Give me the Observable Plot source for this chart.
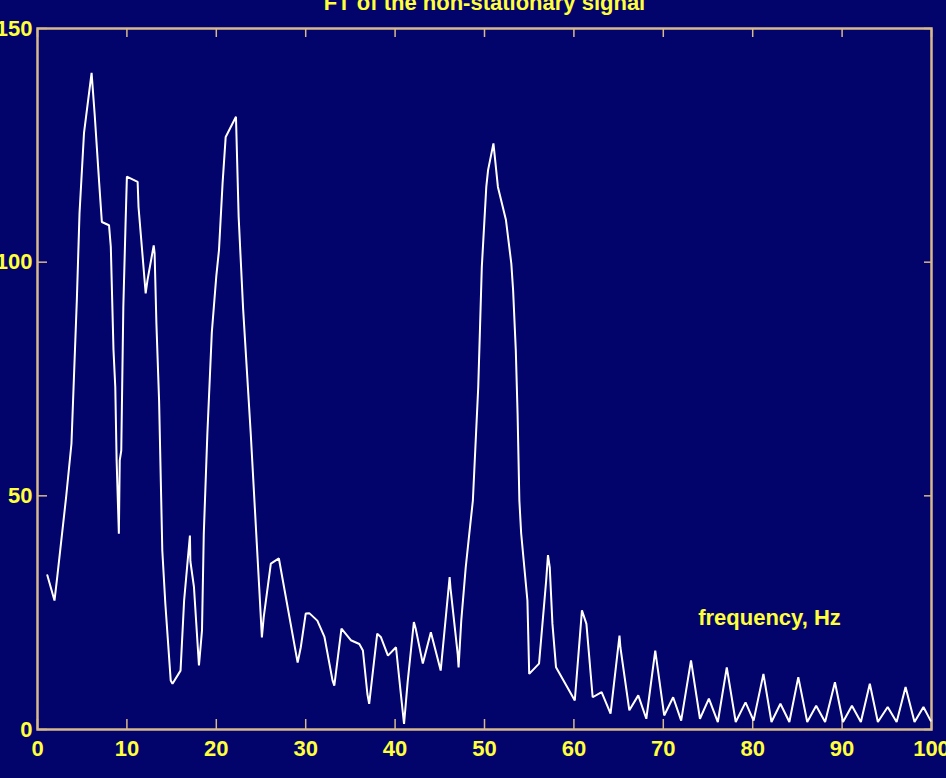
<!DOCTYPE html>
<html>
<head>
<meta charset="utf-8">
<script src="https://cdn.jsdelivr.net/npm/d3@7"></script>
<script src="https://cdn.jsdelivr.net/npm/@observablehq/plot@0.6"></script>
<style>
  html, body { margin: 0; padding: 0; background: #03036c; }
  #chart svg { display: block; }
</style>
</head>
<body>
<div id="chart"></div>
<script>
// ---- data ----
const title = "FT of the non-stationary signal";
const xLabel = "frequency, Hz";
const xTicks = [0, 10, 20, 30, 40, 50, 60, 70, 80, 90, 100];
const yTicks = [0, 50, 100, 150];

const freq = [
  1.1, 1.9, 2.2, 3.2, 3.8, 4.4, 4.7, 5.2, 6.05, 6.4, 6.9, 7.2, 8.0, 8.2, 8.5, 8.7, 8.85, 9.1, 9.2, 9.37,
  9.6, 9.85, 10.0, 11.2, 11.3, 11.7, 12.1, 12.3, 13.0, 13.1, 13.3, 13.6, 13.96, 14.3, 14.9, 15.1, 16.0, 16.4,
  16.8, 17.05, 17.1, 17.5, 18.06, 18.4, 18.6, 19.0, 19.5, 20.0, 20.3, 20.7, 21.05, 22.2, 22.5, 23.0, 23.85,
  24.8, 25.1, 25.3, 26.1, 27.0, 29.1, 29.45, 30.0, 30.4, 31.3, 32.1, 33.0, 33.2, 34.0, 35.05, 36.0, 36.4,
  36.9, 37.1, 38.0, 38.4, 39.2, 40.1, 40.6, 41.0, 41.4, 42.1, 42.3, 43.1, 44.0, 45.1, 46.1, 46.2, 47.0,
  47.1, 47.4, 47.9, 48.3, 48.7, 49.3, 49.5, 49.7, 50.2, 50.4, 51.0, 51.5, 52.4, 53.0, 53.2, 53.5, 53.7,
  53.9, 54.1, 54.8, 55.0, 56.1, 56.9, 57.1, 57.3, 57.6, 58.0, 60.1, 60.9, 61.4, 62.1, 63.1, 64.1, 65.1,
  65.2, 66.2, 67.2, 68.1, 69.1, 69.3, 70.1, 71.1, 72.0, 73.1, 74.1, 75.1, 76.1, 77.1, 78.1, 79.2, 80.1,
  81.2, 82.1, 83.1, 84.1, 85.1, 86.1, 87.1, 88.1, 89.2, 90.1, 91.1, 92.1, 93.1, 94.0, 95.1, 96.1, 97.1,
  98.1, 99.1, 99.9
];
const amplitude = [
  33, 27.6, 32.5, 49.7, 61.2, 91.9, 110.5, 127.6, 140.5, 131.5, 116.9, 108.6, 107.9, 103.3, 81.2, 73.3, 57.6, 41.9, 57.6, 59.7,
  90.4, 108.3, 118.3, 117.2, 111.8, 102.6, 93.3, 96.1, 103.6, 101.9, 86.9, 70.4, 38.3, 26.9, 10.5, 9.8, 12.6, 27.6,
  36.2, 41.5, 36, 30.5, 13.7, 21.2, 41.9, 63.3, 85, 97, 102.6, 116.8, 126.8, 131.1, 109.7, 90, 63.4,
  30.4, 19.7, 24, 35.5, 36.6, 14.3, 17.6, 24.8, 24.9, 23.3, 19.8, 10.5, 9.4, 21.6, 19.1, 18.3, 16.9,
  7.6, 5.5, 20.5, 19.8, 15.8, 17.6, 8.4, 1.2, 10.1, 23, 21.6, 14.1, 20.8, 12.6, 32.6, 30.2, 16.2,
  13.3, 23.3, 34.7, 41.9, 49, 73.3, 86.1, 99, 116.1, 119.7, 125.4, 116.1, 109, 99.7, 94, 81.2, 67.6,
  49, 42, 27.6, 11.9, 14.1, 31.9, 37.3, 34.7, 22.6, 13.3, 6.2, 25.5, 22.6, 6.9, 8.0, 3.4, 20.1,
  17.6, 4.1, 7.3, 2.3, 16.9, 14.1, 3.0, 6.9, 1.9, 14.8, 2.3, 6.6, 1.6, 13.3, 1.6, 5.8, 1.9,
  11.9, 1.6, 5.5, 1.6, 11.2, 1.6, 5.1, 1.6, 10.1, 1.6, 5.1, 1.6, 9.8, 1.6, 4.8, 1.6, 9.1,
  1.6, 4.8, 1.9
];

// ---- styling ----
const BG = "#03036c";
const YELLOW = "#ffff3c";
const TAN = "#d6b98c";
const FONT = "'Liberation Sans', Arial, sans-serif";

const rows = freq.map((f, i) => ({f, a: amplitude[i]}));

const chart = Plot.plot({
  width: 946,
  height: 778,
  marginLeft: 37,
  marginRight: 15,
  marginTop: 28,
  marginBottom: 49,
  style: {background: BG, color: YELLOW, fontFamily: FONT, fontWeight: "bold", fontSize: "22px", overflow: "visible"},
  x: {domain: [0, 100]},
  y: {domain: [0, 150]},
  marks: [
    Plot.axisX({anchor: "bottom", ticks: xTicks, tickSize: -10, tickPadding: 21, stroke: TAN, strokeWidth: 1.5, color: YELLOW, label: null, tickFormat: d => String(d)}),
    Plot.axisX({anchor: "top", ticks: xTicks, tickSize: -8, stroke: TAN, strokeWidth: 1.5, label: null, tickFormat: () => ""}),
    Plot.axisY({anchor: "left", ticks: yTicks, tickSize: -10, tickPadding: 15, stroke: TAN, strokeWidth: 1.5, color: YELLOW, label: null, tickFormat: d => String(d)}),
    Plot.axisY({anchor: "right", ticks: yTicks, tickSize: -8, stroke: TAN, strokeWidth: 1.5, label: null, tickFormat: () => ""}),
    Plot.frame({stroke: TAN, strokeWidth: 2.5}),
    Plot.line(rows, {x: "f", y: "a", stroke: "white", strokeWidth: 2, strokeLinejoin: "miter"}),
    Plot.text([xLabel], {text: d => d, frameAnchor: "bottom-right", dx: -162, dy: -112, textAnchor: "middle", lineAnchor: "middle", fill: YELLOW, fontSize: 22, fontWeight: "bold"}),
    Plot.text([title], {text: d => d, frameAnchor: "top", dy: -26, textAnchor: "middle", lineAnchor: "middle", fill: YELLOW, fontSize: 22, fontWeight: "bold"})
  ]
});
document.getElementById("chart").appendChild(chart);
</script>
</body>
</html>
